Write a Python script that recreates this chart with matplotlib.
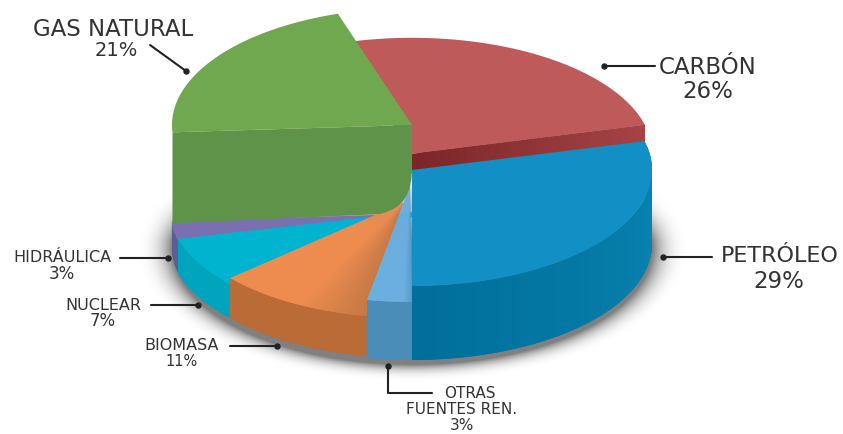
import numpy as np
import matplotlib
matplotlib.use('Agg')
import matplotlib.pyplot as plt
from matplotlib.colors import to_rgb
from matplotlib.patches import Polygon, PathPatch
from matplotlib.path import Path

# Data
labels = ['Carbón', 'Petróleo', 'Otras fuentes Ren.', 'Biomasa', 'Nuclear', 'Hidráulica', 'Gas Natural']
shares = [26, 29, 3, 11, 7, 3, 21]
start_angle = 108

# Slice look, same order as labels
top_colors = ['#bf5a5b', '#1290c5', '#6baee0', '#ee8c50', '#00b4d0', '#7a6fb0', '#70a84f']
wall_colors = ['#8a3035', '#007ba8', '#4a8db8', '#bb6b36', '#00a4bc', '#5a5a9c', '#5f9349']
centers = [(412, 153.8), (412, 170), (412, 186), (410, 208), (431.7, 210), (410, 214), (412, 125)]
radii = [(240.5, 116), (240, 116), (240, 116), (233, 110), (262, 116), (238.5, 116), (240, 117)]
depths = [17, 74, 58, 40, 34, 31, 91]

fig = plt.figure(figsize=(8.43, 4.34), dpi=100)
ax = fig.add_axes([0, 0, 1, 1])
ax.set_xlim(0, 843)
ax.set_ylim(434, 0)
ax.axis('off')

# Angles come from the shares, going clockwise
edges = start_angle - np.cumsum([0] + [s * 3.6 for s in shares])


def arc(i, a1, a2, n=60):
    t = np.radians(np.linspace(a1, a2, n))
    cx, cy = centers[i]
    rx, ry = radii[i]
    return np.column_stack([cx + rx * np.cos(t), cy - ry * np.sin(t)])


def mix(c1, c2, f):
    c1, c2 = np.array(to_rgb(c1)), np.array(to_rgb(c2))
    return tuple(c1 + (c2 - c1) * f)


def draw_top(i, z, grad=None, tip=None):
    a1, a2 = edges[i], edges[i + 1]
    tip = centers[i] if tip is None else tip
    if grad is None:
        pts = np.vstack([[tip], arc(i, a1, a2)])
        ax.add_patch(Polygon(pts, fc=top_colors[i], ec='none', zorder=z))
        return
    # fan of thin wedges for the shaded slices, each one lies over the next
    n = 40
    steps = np.linspace(a1, a2, n + 1)
    for k in range(n):
        f = (k + 0.5) / n
        col = top_colors[i] if f > grad[1] else mix(grad[0], top_colors[i], f / grad[1])
        pts = np.vstack([[tip], arc(i, steps[k], steps[min(k + 2, n)], 5)])
        ax.add_patch(Polygon(pts, fc=col, ec='none', zorder=z))


def draw_wall(i, z, left=None, right=None):
    a1, a2 = edges[i], edges[i + 1]
    n = 40
    steps = np.linspace(a1, a2, n + 1)
    for k in range(n):
        f = (k + 0.5) / n
        col = wall_colors[i] if left is None else mix(right, left, f)
        up = arc(i, steps[k], steps[min(k + 2, n)], 5)
        down = up[::-1] + [0, depths[i]]
        ax.add_patch(Polygon(np.vstack([up, down]), fc=col, ec='none', zorder=z))


# Soft shadow under the pie, as an image behind everything
yy, xx = np.mgrid[0:434, 0:843]
e = np.sqrt(((xx - 412) / 240.0) ** 2 + ((yy - 248) / 116.0) ** 2)
fade = np.clip(1 - (e - 1) * 240 / 42.0, 0, 1) ** 3
fade = fade * np.clip((yy - 170) / 70.0, 0, 1)
shadow = np.zeros(xx.shape + (4,))
shadow[..., 3] = 0.5 * fade
ax.imshow(shadow, extent=(0, 843, 434, 0), zorder=0, interpolation='bilinear', aspect='auto')
ax.set_xlim(0, 843)
ax.set_ylim(434, 0)

# Carbon: top and front cut
draw_top(0, 1)
corner = arc(0, edges[1], edges[1], 1)[0]
apex = np.array(centers[0])
n = 30
for k in range(n):
    p1 = apex + (corner - apex) * k / n
    p2 = apex + (corner - apex) * min(k + 2, n) / n
    col = mix('#7a2528', '#a54445', (k + 0.5) / n)
    ax.add_patch(Polygon([p1, p2, p2 + [0, depths[0]], p1 + [0, depths[0]]],
                         fc=col, ec='none', zorder=1))

# Lower slices, back to front
draw_wall(5, 2)
draw_top(5, 2)
draw_wall(4, 3)
draw_top(4, 3)
draw_wall(3, 4)
draw_top(3, 4, grad=('#c47844', 0.45), tip=(403, 203))
draw_wall(2, 5)
draw_top(2, 5, grad=('#5a9cc8', 0.2), tip=(410, 186))
draw_wall(1, 6, left='#006f99', right='#0a86b5')
draw_top(1, 6)

# Gas natural sits on top, with a big front cut
draw_top(6, 7)
left_pt = arc(6, edges[6], edges[6], 1)[0]
apex = np.array(centers[6])
d = depths[6]
verts = [tuple(left_pt), tuple(apex), (412, 167), (412, 192), (405, 208), (380, 214),
         (left_pt[0], left_pt[1] + d), tuple(left_pt)]
codes = [Path.MOVETO, Path.LINETO, Path.LINETO, Path.CURVE4, Path.CURVE4, Path.CURVE4,
         Path.LINETO, Path.CLOSEPOLY]
ax.add_patch(PathPatch(Path(verts, codes), fc=wall_colors[6], ec='none', zorder=7))

# Text
txt = '#333333'
ax.text(113, 29, 'GAS NATURAL', fontsize=16.5, color=txt, ha='center', va='center')
ax.text(116, 50, '21%', fontsize=14, color=txt, ha='center', va='center')
ax.text(708, 67, 'CARBÓN', fontsize=16.5, color=txt, ha='center', va='center')
ax.text(708, 91, '26%', fontsize=16.5, color=txt, ha='center', va='center')
ax.text(780, 256, 'PETRÓLEO', fontsize=16, color=txt, ha='center', va='center')
ax.text(779, 281, '29%', fontsize=16.5, color=txt, ha='center', va='center')
ax.text(62, 258, 'HIDRÁULICA', fontsize=11.5, color=txt, ha='center', va='center')
ax.text(62, 274, '3%', fontsize=12, color=txt, ha='center', va='center')
ax.text(103, 305, 'NUCLEAR', fontsize=11.5, color=txt, ha='center', va='center')
ax.text(103, 321, '7%', fontsize=12, color=txt, ha='center', va='center')
ax.text(182, 345, 'BIOMASA', fontsize=11.5, color=txt, ha='center', va='center')
ax.text(182, 361, '11%', fontsize=10.5, color=txt, ha='center', va='center')
ax.text(470, 394, 'OTRAS', fontsize=11, color=txt, ha='center', va='center')
ax.text(462, 410, 'FUENTES REN.', fontsize=11, color=txt, ha='center', va='center')
ax.text(462, 425, '3%', fontsize=11, color=txt, ha='center', va='center')

# Leader lines: the dot end comes last
leaders = [
    ([150, 186], [45, 71]),
    ([655, 604], [66, 66]),
    ([712, 663], [257, 257]),
    ([120, 168], [258, 258]),
    ([151, 198], [305, 305]),
    ([230, 277], [346, 346]),
    ([432, 388, 388], [393, 393, 366]),
]
for xs, ys in leaders:
    ax.plot(xs, ys, color='#222222', lw=1.5, zorder=8, solid_capstyle='round')
    ax.plot(xs[-1], ys[-1], 'o', color='#222222', ms=3.6, zorder=8)

fig.savefig('out.png', dpi=100)
